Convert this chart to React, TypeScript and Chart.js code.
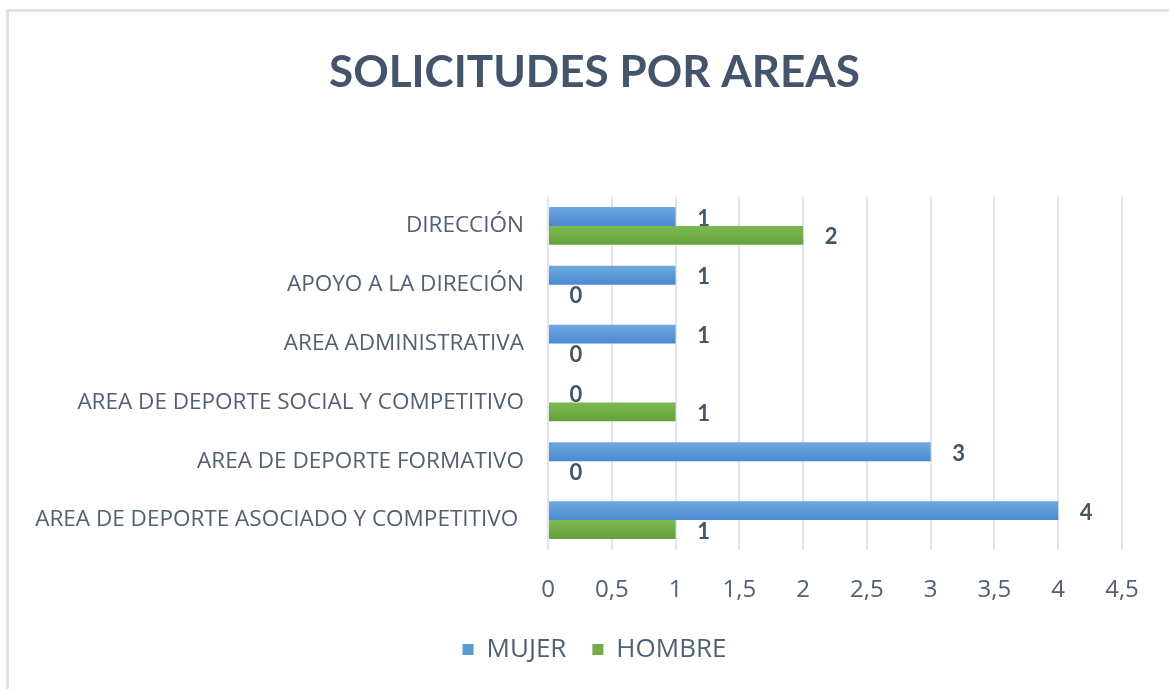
import React, { useEffect, useRef } from "react";
import { Chart, registerables } from "chart.js";

Chart.register(...registerables);

const categories = [
  "DIRECCIÓN",
  "APOYO A LA DIRECIÓN",
  "AREA ADMINISTRATIVA",
  "AREA DE DEPORTE SOCIAL Y COMPETITIVO",
  "AREA DE DEPORTE FORMATIVO",
  "AREA DE DEPORTE ASOCIADO Y COMPETITIVO ",
];
const mujerValues = [1, 1, 1, 0, 3, 4];
const hombreValues = [2, 0, 0, 1, 0, 1];
const xTickLabels = ["0", "0,5", "1", "1,5", "2", "2,5", "3", "3,5", "4", "4,5"];

const TEXT_COLOR = "#526073";
const TITLE_COLOR = "#44546A";
const TITLE_FONT = "Lato, 'Open Sans', sans-serif";
const FONT = "'Open Sans', Lato, sans-serif";
const CAT_PCT = 0.644;

function barGradient(top: string, bottom: string, fallback: string) {
  return (context: any) => {
    const chart = context.chart;
    const yScale = chart.scales && chart.scales.y;
    if (!yScale || context.type !== "data" || !chart.ctx) return fallback;
    const center = yScale.getPixelForValue(context.dataIndex);
    const catSize = Math.abs(yScale.getPixelForValue(1) - yScale.getPixelForValue(0));
    const thick = (catSize * CAT_PCT) / 2;
    const y0 = context.datasetIndex === 0 ? center - thick : center;
    const g = chart.ctx.createLinearGradient(0, y0, 0, y0 + thick);
    g.addColorStop(0, top);
    g.addColorStop(1, bottom);
    return g;
  };
}

const borderPlugin = {
  id: "frameBorder",
  beforeDraw(chart: any) {
    const ctx = chart.ctx;
    ctx.save();
    ctx.fillStyle = "#ffffff";
    ctx.fillRect(0, 0, chart.width, chart.height);
    ctx.strokeStyle = "#DEE3EA";
    ctx.lineWidth = 3;
    ctx.strokeRect(7.5, 10.5, chart.width + 10, chart.height + 10);
    ctx.restore();
  },
};

const valueLabelPlugin = {
  id: "valueLabels",
  afterDatasetsDraw(chart: any) {
    const ctx = chart.ctx;
    ctx.save();
    ctx.font = `bold 22px ${TITLE_FONT}`;
    ctx.fillStyle = TITLE_COLOR;
    ctx.textAlign = "center";
    ctx.textBaseline = "middle";
    chart.data.datasets.forEach((ds: any, di: number) => {
      const meta = chart.getDatasetMeta(di);
      meta.data.forEach((el: any, i: number) => {
        const v = ds.data[i];
        ctx.fillText(String(v), el.x + 28, el.y + 2);
      });
    });
    ctx.restore();
  },
};

export default function App() {
  const canvasRef = useRef<HTMLCanvasElement | null>(null);

  useEffect(() => {
    document.body.style.margin = "0";
    const canvas = canvasRef.current;
    if (!canvas) return;
    const chart = new Chart(canvas, {
      type: "bar",
      data: {
        labels: categories,
        datasets: [
          {
            label: "MUJER",
            data: mujerValues,
            backgroundColor: barGradient("#70A8DF", "#4A8AD0", "#5B9BD5"),
            borderWidth: 0,
            categoryPercentage: CAT_PCT,
            barPercentage: 1,
          },
          {
            label: "HOMBRE",
            data: hombreValues,
            backgroundColor: barGradient("#7CB953", "#63A13B", "#70AD47"),
            borderWidth: 0,
            categoryPercentage: CAT_PCT,
            barPercentage: 1,
          },
        ],
      },
      options: {
        indexAxis: "y",
        animation: false,
        responsive: true,
        maintainAspectRatio: false,
        layout: { padding: { left: 20, right: 0, top: 0, bottom: 16.5 } },
        scales: {
          x: {
            min: 0,
            max: 4.5,
            ticks: {
              stepSize: 0.5,
              padding: 26,
              color: TEXT_COLOR,
              font: { family: FONT, size: 24 },
              callback: (_v: any, i: number) => xTickLabels[i],
            },
            grid: { color: "#DFE5EC", lineWidth: 2, drawTicks: false },
            border: { display: false },
            afterFit: (scale: any) => {
              scale.height = 61;
              scale.paddingRight = 47;
            },
          },
          y: {
            ticks: {
              padding: 24,
              color: TEXT_COLOR,
              font: { family: FONT, size: 22.5 },
            },
            grid: { display: false, drawTicks: false },
            border: { display: false },
            afterFit: (scale: any) => {
              scale.width = 528;
            },
          },
        },
        plugins: {
          title: {
            display: true,
            text: "SOLICITUDES POR AREAS",
            color: TITLE_COLOR,
            font: { family: TITLE_FONT, size: 44, weight: "bold" },
            padding: { top: 46, bottom: 97.7 },
          },
          legend: {
            position: "bottom",
            labels: {
              color: TEXT_COLOR,
              font: { family: FONT, size: 26 },
              boxWidth: 11,
              boxHeight: 11,
              padding: 26,
              generateLabels: (c: any) =>
                c.data.datasets.map((ds: any, i: number) => ({
                  text: ds.label,
                  fillStyle: i === 0 ? "#5B9BD5" : "#70AD47",
                  strokeStyle: i === 0 ? "#5B9BD5" : "#70AD47",
                  lineWidth: 0,
                  fontColor: TEXT_COLOR,
                  hidden: false,
                  datasetIndex: i,
                })),
            },
          },
          tooltip: { enabled: false },
        },
      },
      plugins: [borderPlugin, valueLabelPlugin],
    } as any);
    return () => chart.destroy();
  }, []);

  return (
    <div style={{ width: 1169, height: 689, position: "relative" }}>
      <canvas ref={canvasRef} />
    </div>
  );
}
